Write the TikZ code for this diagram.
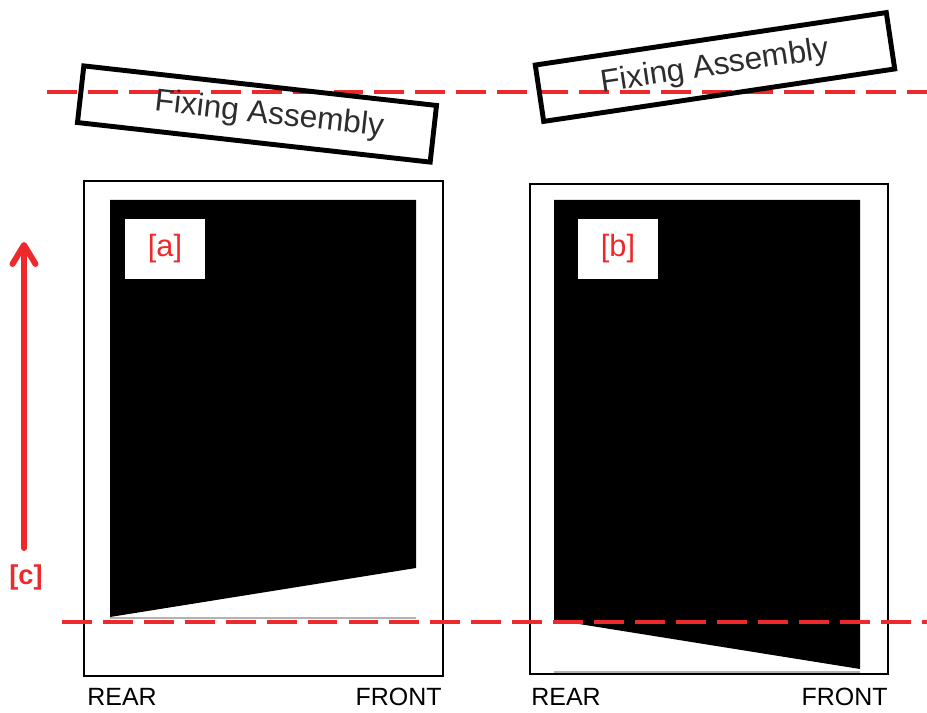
\documentclass[tikz,border=0pt]{standalone}
\usepackage{fontspec}
\setmainfont{Liberation Sans}
\usetikzlibrary{arrows.meta}
\definecolor{markred}{RGB}{237,41,43}
\definecolor{labelgray}{RGB}{45,45,45}

\begin{document}
\begin{tikzpicture}[x=0.02cm, y=-0.02cm,
    frame/.style={draw, line width=1.4pt},
    fixbox/.style={draw, line width=2.8pt, minimum width=7.1cm, minimum height=1.14cm,
        text=labelgray, font=\fontsize{18}{20}\selectfont},
    tagbox/.style={fill=white, minimum width=1.6cm, minimum height=1.2cm,
        text=markred, font=\fontsize{17.5}{19}\selectfont},
    sidelabel/.style={inner sep=0pt, font=\fontsize{14.2}{16}\selectfont},
    refline/.style={markred, line width=2.8pt, dash pattern=on 17pt off 6.3pt},
    uparrow/.style={markred, line width=3.4pt, line cap=round,
        -{Straight Barb[round, length=0.38cm, width=0.46cm]}}]
    \useasboundingbox (0,0) rectangle (927,713);
    % Frames and paper:
    \draw[frame] (84,181) rectangle (443,676);
    \fill (110,200) -- (416,200) -- (416,568) -- (110,617) -- cycle;
    \draw[gray!60, line width=0.6pt] (110,618) -- (416,618);
    \draw[frame] (530,184) rectangle (888,674);
    \fill (554,200) -- (860,200) -- (860,669) -- (554,620) -- cycle;
    \draw[gray!60, line width=1pt] (554,672) -- (860,672);
    \node[tagbox] (tagA) at (165,249) {[a]};
    \node[tagbox] (tagB) at (618,249) {[b]};
    % Reference lines:
    \draw[refline] (47,92) -- (927,92);
    \draw[refline] (62,622) -- (927,622);
    % Fixing assemblies:
    \node[fixbox, rotate=-6.4] (fixA) at (257,114) {\hspace{14pt}Fixing Assembly};
    \node[fixbox, rotate=8.5] (fixB) at (715,67) {Fixing Assembly};
    % Feed direction:
    \coordinate (arrowbot) at (24,548);
    \coordinate (arrowtop) at (24,242);
    \draw[uparrow] (arrowbot) -- (arrowtop);
    \node[text=markred, font=\fontsize{15.5}{18}\selectfont\bfseries] (tagC) at (26,577) {[c]};
    % Sides:
    \node[sidelabel, anchor=base west] (rearA) at (87,705) {REAR};
    \node[sidelabel, anchor=base east] (frontA) at (442,705) {FRONT};
    \node[sidelabel, anchor=base west] (rearB) at (531,705) {REAR};
    \node[sidelabel, anchor=base east] (frontB) at (888,705) {FRONT};
\end{tikzpicture}
\end{document}
